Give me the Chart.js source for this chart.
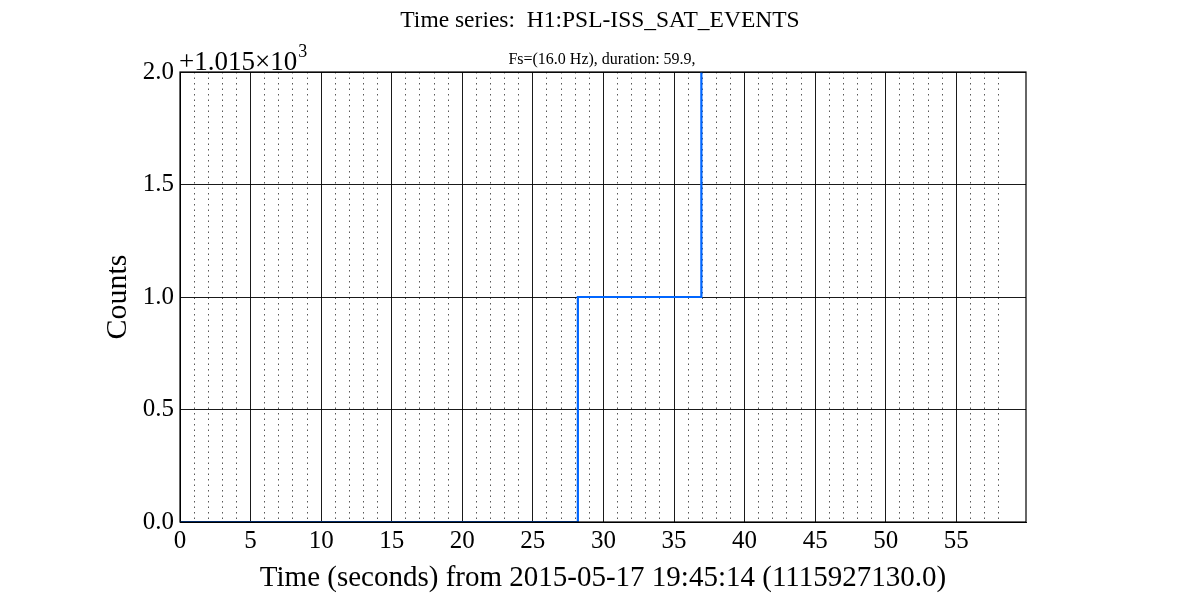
<!DOCTYPE html>
<html><head><meta charset="utf-8">
<script src="https://cdn.jsdelivr.net/npm/chart.js@4"></script>
<style>html,body{margin:0;padding:0;background:#fff}</style>
</head><body>
<canvas id="c" width="1200" height="600" style="width:1200px;height:600px;display:block"></canvas>
<script>
// Step-series data (time in seconds, counts)
const times = [0, 28.1875, 36.9375];
const counts = [1015, 1016, 1017];
const yTicks = [1015, 1015.5, 1016, 1016.5, 1017];
const xMinorTicks = [0,1,2,3,4,5,6,7,8,9,10,11,12,13,14,15,16,17,18,19,20,21,22,23,24,25,26,27,28,29,30,31,32,33,34,35,36,37,38,39,40,41,42,43,44,45,46,47,48,49,50,51,52,53,54,55,56,57,58];
const yOffsetValue = 1015;
const titleText = 'Time series:  H1:PSL-ISS_SAT_EVENTS';
const subtitleText = 'Fs=(16.0 Hz), duration: 59.9,';
const offsetText = '+1.015\u00d710';
const xTitle = 'Time (seconds) from 2015-05-17 19:45:14 (1115927130.0)';
const yTitle = 'Counts';

const FONT = "'Liberation Serif', serif";

const points = times.map((t, i) => ({x: t, y: counts[i]}));

const frame = {
  id: 'frame',
  afterDraw(chart) {
    const {ctx, chartArea: a} = chart;
    ctx.save();
    ctx.strokeStyle = '#000';
    ctx.lineWidth = 1.2;
    ctx.strokeRect(a.left, a.top, a.right - a.left, a.bottom - a.top);
    ctx.fillStyle = '#000';
    ctx.textAlign = 'center';
    ctx.textBaseline = 'alphabetic';
    ctx.font = '23.5px ' + FONT;
    ctx.fillText(titleText, 600, 27);
    ctx.font = '16px ' + FONT;
    ctx.fillText(subtitleText, 602, 64);
    ctx.textAlign = 'left';
    ctx.font = '27px ' + FONT;
    ctx.fillText(offsetText, 179, 70);
    const w = ctx.measureText(offsetText).width;
    ctx.font = '18px ' + FONT;
    ctx.fillText('3', 179 + w + 1, 57);
    ctx.restore();
  }
};

new Chart(document.getElementById('c'), {
  type: 'line',
  data: {
    datasets: [{
      data: points,
      stepped: true,
      borderColor: 'rgb(0,102,255)',
      borderWidth: 2.2,
      pointRadius: 0,
      fill: false,
      tension: 0
    }]
  },
  options: {
    responsive: false,
    animation: false,
    layout: {padding: {left: 100, right: 174, top: 72, bottom: 0}},
    plugins: {legend: {display: false}, tooltip: {enabled: false}, title: {display: false}},
    scales: {
      x: {
        type: 'linear',
        min: 0,
        max: 59.9375,
        afterBuildTicks: s => { s.ticks = xMinorTicks.map(v => ({value: v})); },
        afterFit: s => { s.height = 78; },
        ticks: {
          autoSkip: false,
          maxRotation: 0,
          padding: 4,
          color: '#000',
          font: {family: FONT, size: 25},
          callback: v => (v % 5 === 0 ? String(v) : '')
        },
        grid: {
          drawTicks: false,
          color: ctx => (ctx.tick && ctx.tick.value % 5 === 0 ? '#000' : '#444'),
          lineWidth: 0.9
        },
        border: {
          display: true,
          color: '#000',
          dash: ctx => (ctx.tick && ctx.tick.value % 5 !== 0 ? [1.5, 4] : [])
        },
        title: {
          display: true,
          text: xTitle,
          color: '#000',
          font: {family: FONT, size: 29},
          padding: {top: 0, bottom: 4}
        }
      },
      y: {
        min: 1015,
        max: 1017,
        afterBuildTicks: s => { s.ticks = yTicks.map(v => ({value: v})); },
        afterFit: s => { s.width = 80; },
        ticks: {
          padding: 6,
          color: '#000',
          font: {family: FONT, size: 25},
          callback: v => (v - yOffsetValue).toFixed(1)
        },
        grid: {drawTicks: false, color: '#000', lineWidth: 0.9},
        border: {display: true, color: '#000'},
        title: {
          display: true,
          text: yTitle,
          color: '#000',
          font: {family: FONT, size: 30},
          padding: {top: 0, bottom: 0}
        }
      }
    }
  },
  plugins: [frame]
});
</script>
</body></html>
